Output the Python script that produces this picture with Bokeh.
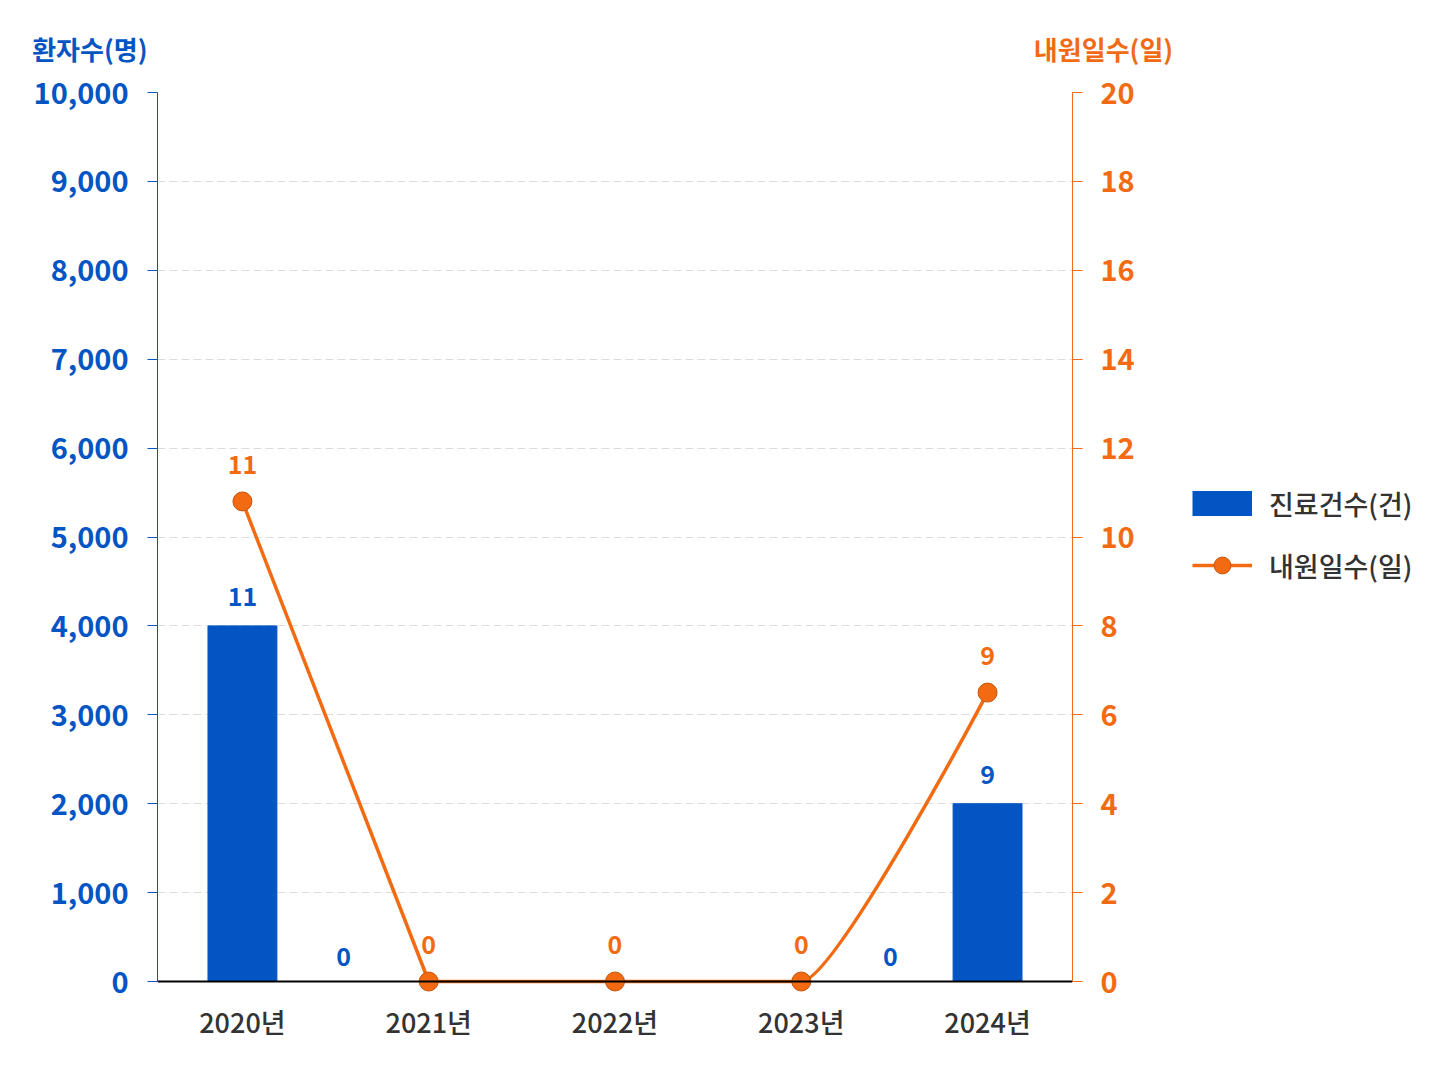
from bokeh.plotting import figure
from bokeh.layouts import column, row
from bokeh.models import (ColumnDataSource, Range1d, LinearAxis, FixedTicker, Span,
                          NumeralTickFormatter, Legend, LegendItem, LabelSet, Label)
from bokeh.core.properties import value
from bokeh.embed import file_html
from bokeh.resources import INLINE

# ---------------- data ----------------
years = [2020, 2021, 2022, 2023, 2024]
year_labels = ["2020년", "2021년", "2022년", "2023년", "2024년"]
patients = [4000, 0, 0, 0, 2000]          # bars, left axis (환자수)
patient_labels = ["11", "0", "0", "0", "9"]
visit_days = [10.8, 0, 0, 0, 6.5]         # line, right axis (내원일수)
visit_labels = ["11", "0", "0", "0", "9"]
left_ticks = [0, 1000, 2000, 3000, 4000, 5000, 6000, 7000, 8000, 9000, 10000]
right_ticks = [0, 2, 4, 6, 8, 10, 12, 14, 16, 18, 20]
bar_name = "진료건수(건)"
line_name = "내원일수(일)"
left_title = "환자수(명)"
right_title = "내원일수(일)"

# ---------------- style ----------------
BLUE = "#0455C4"
ORANGE = "#F26B12"
DARK = "#333333"
FONT = "Noto Sans CJK KR"
FONT_M = "Noto Sans CJK KR Medium, Noto Sans CJK KR"
zero_label_shift = {2021: -85, 2023: 89}   # screen px shift of the zero bar labels
HEADER_H = 66
PLOT_H = 889            # pixels between 0 and the top of the value axes
PAD_PX = 11             # room below zero so the markers on 0 are not cut
MAIN_H = 26 + PLOT_H + PAD_PX + 69
L_MAX, R_MAX = left_ticks[-1], right_ticks[-1]


def bare(fig):
    fig.outline_line_color = None
    fig.xgrid.grid_line_color = None
    fig.ygrid.grid_line_color = None
    fig.background_fill_color = "white"
    fig.border_fill_color = "white"


# ---------------- header with axis titles ----------------
header = figure(width=1440, height=HEADER_H, x_range=Range1d(0, 1440),
                y_range=Range1d(0, HEADER_H), min_border=0,
                x_axis_location=None, y_axis_location=None,
                output_backend="svg", toolbar_location=None)
bare(header)
header.text(x=[147], y=[HEADER_H - 48], text=[left_title], text_align="right",
            text_baseline="middle", text_font=value(FONT), text_font_size="26px",
            text_font_style="bold", text_color=BLUE)
header.text(x=[1103], y=[HEADER_H - 48], text=[right_title], text_align="center",
            text_baseline="middle", text_font=value(FONT), text_font_size="26px",
            text_font_style="bold", text_color=ORANGE)

# ---------------- main chart ----------------
p = figure(width=1150, height=MAIN_H,
           x_range=Range1d(2019.544, 2024.456),
           y_range=Range1d(-L_MAX * PAD_PX / PLOT_H, L_MAX),
           output_backend="svg", toolbar_location=None,
           min_border_left=157, min_border_top=26, min_border_right=78,
           min_border_bottom=69)
bare(p)
p.extra_y_ranges = {"right": Range1d(-R_MAX * PAD_PX / PLOT_H, R_MAX)}

p.ygrid.grid_line_color = "#dcdcdc"
p.ygrid.grid_line_dash = "8 4"
p.ygrid.grid_line_width = 1
p.ygrid.ticker = FixedTicker(ticks=left_ticks)

xa = p.xaxis[0]
xa.ticker = FixedTicker(ticks=years)
xa.major_label_overrides = {y: l for y, l in zip(years, year_labels)}
xa.axis_line_color = None
xa.major_tick_line_color = None
xa.minor_tick_line_color = None
xa.major_label_standoff = 3
xa.major_label_text_font = FONT_M
xa.major_label_text_font_size = "27px"
xa.major_label_text_color = DARK

ya = p.yaxis[0]
ya.ticker = FixedTicker(ticks=left_ticks)
ya.bounds = (0, L_MAX)
ya.formatter = NumeralTickFormatter(format="0,0")
ya.axis_line_color = BLUE
ya.major_tick_line_color = BLUE
ya.major_tick_out = 10
ya.major_tick_in = 0
ya.minor_tick_line_color = None
ya.major_label_standoff = 19
ya.major_label_text_font = FONT
ya.major_label_text_font_size = "29px"
ya.major_label_text_font_style = "bold"
ya.major_label_text_color = BLUE

ra = LinearAxis(y_range_name="right", ticker=FixedTicker(ticks=right_ticks),
                bounds=(0, R_MAX))
ra.axis_line_color = ORANGE
ra.major_tick_line_color = ORANGE
ra.major_tick_out = 10
ra.major_tick_in = 0
ra.minor_tick_line_color = None
ra.major_label_standoff = 18
ra.major_label_text_font = FONT
ra.major_label_text_font_size = "29px"
ra.major_label_text_font_style = "bold"
ra.major_label_text_color = ORANGE
p.add_layout(ra, "right")

bar_src = ColumnDataSource(dict(x=years, top=patients, label=patient_labels))
p.vbar(x="x", top="top", bottom=0, width=0.37, source=bar_src,
       fill_color=BLUE, line_color=BLUE)

# baseline (category axis line at zero)
p.add_layout(Span(location=0, dimension="width", line_color="black", line_width=2))

# line: smooth where it leaves a flat run, straight elsewhere
seg = dict(x0=[], y0=[], x1=[], y1=[], cx0=[], cy0=[], cx1=[], cy1=[])
for i in range(len(years) - 1):
    x0, y0, x1, y1 = years[i], visit_days[i], years[i + 1], visit_days[i + 1]
    flat_before = i > 0 and visit_days[i - 1] == y0 and y1 != y0
    seg["x0"].append(x0); seg["y0"].append(y0)
    seg["x1"].append(x1); seg["y1"].append(y1)
    if flat_before:
        seg["cx0"].append(x0 + 0.18 * (x1 - x0)); seg["cy0"].append(y0)
    else:
        seg["cx0"].append(x0); seg["cy0"].append(y0)
    seg["cx1"].append(x1); seg["cy1"].append(y1)
p.bezier(x0="x0", y0="y0", x1="x1", y1="y1", cx0="cx0", cy0="cy0",
         cx1="cx1", cy1="cy1", source=ColumnDataSource(seg),
         y_range_name="right", line_color=ORANGE, line_width=3.5)

line_src = ColumnDataSource(dict(x=years, y=visit_days, label=visit_labels))
p.scatter(x="x", y="y", source=line_src, y_range_name="right", size=19,
          fill_color=ORANGE, line_color="#C4550C", line_width=1)

p.add_layout(LabelSet(x="x", y="y", text="label", source=line_src, y_range_name="right",
                      text_align="center", text_baseline="middle", y_offset=37,
                      text_font=value(FONT), text_font_size="25px",
                      text_font_style="bold", text_color=ORANGE))

nz = [i for i, v in enumerate(patients) if v > 0]
top_src = ColumnDataSource(dict(x=[years[i] for i in nz], y=[patients[i] for i in nz],
                                label=[patient_labels[i] for i in nz]))
p.add_layout(LabelSet(x="x", y="y", text="label", source=top_src,
                      text_align="center", text_baseline="middle", y_offset=29,
                      text_font=value(FONT), text_font_size="25px",
                      text_font_style="bold", text_color=BLUE))
for i, v in enumerate(patients):
    if v == 0 and years[i] in zero_label_shift:
        p.add_layout(Label(x=years[i], y=v, text=patient_labels[i],
                           x_offset=zero_label_shift[years[i]], y_offset=25,
                           text_align="center", text_baseline="middle",
                           text_font=FONT, text_font_size="25px",
                           text_font_style="bold", text_color=BLUE))

# ---------------- legend panel ----------------
lg = figure(width=290, height=MAIN_H, x_range=Range1d(0, 1), y_range=Range1d(0, 1),
            min_border=0, x_axis_location=None, y_axis_location=None,
            output_backend="svg", toolbar_location=None)
bare(lg)
# key glyphs only (kept outside the visible range of this panel)
bar_key = lg.line(x=[-2, -1], y=[-2, -1], line_color=BLUE, line_width=25)
line_key = lg.line(x=[-2, -1], y=[-2, -1], line_color=ORANGE, line_width=3.5)
dot_key = lg.scatter(x=[-2], y=[-2], size=19, fill_color=ORANGE,
                     line_color="#C4550C", line_width=1)
legend = Legend(items=[LegendItem(label=bar_name, renderers=[bar_key]),
                       LegendItem(label=line_name, renderers=[line_key, dot_key])],
                location=(32, 396), glyph_width=60, glyph_height=42, spacing=20,
                padding=10, margin=0, label_standoff=17,
                label_text_font=FONT_M, label_text_font_size="27px",
                label_text_color=DARK, border_line_alpha=0,
                background_fill_alpha=0)
lg.add_layout(legend, "center")

layout = column(header, row(p, lg))
open("out.html", "w").write(file_html(layout, INLINE))
